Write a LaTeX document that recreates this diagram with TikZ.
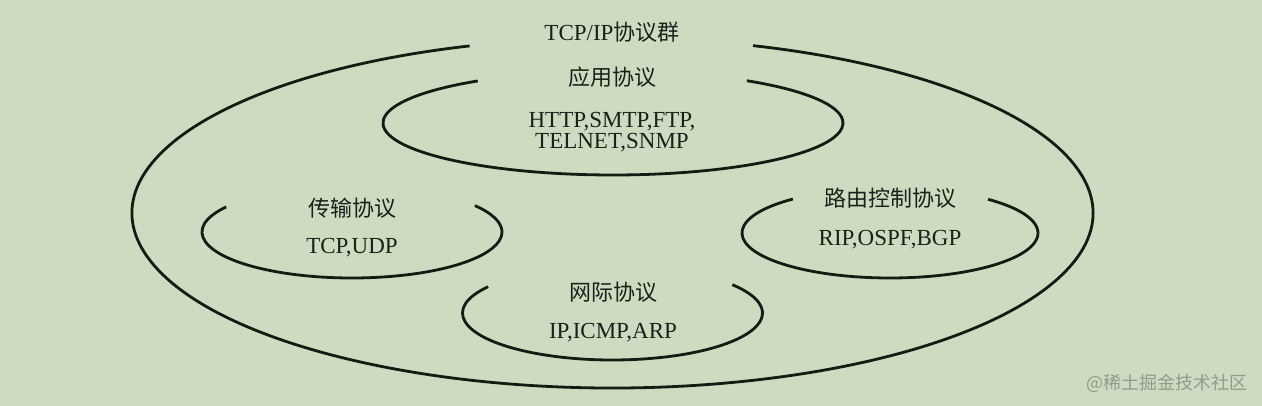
\documentclass[tikz,border=0pt]{standalone}
\usepackage{fontspec}
\setmainfont{Liberation Serif}
\newfontfamily\cjk{Noto Sans CJK SC}
\definecolor{beijingLv}{HTML}{CDDCC1}
\definecolor{xianHei}{HTML}{141A14}
\definecolor{ziHei}{HTML}{18221A}
\definecolor{shuiYin}{HTML}{8E9C8C}

\begin{document}
\begin{tikzpicture}[x=1pt,y=1pt,
  huan/.style={draw=xianHei,line width=2.8pt},
  mingcheng/.style={text=ziHei,font=\fontsize{22}{21}\selectfont\cjk,inner sep=0pt},
  xieyi/.style={text=ziHei,font=\fontsize{23}{21}\selectfont,align=center,inner sep=0pt}]
\fill[beijingLv] (0,0) rectangle (1262,406);
\useasboundingbox (0,0) rectangle (1262,406);
% waiceng: TCP/IP xieyiqun
\coordinate (qun) at (612.5,193);
\draw[huan] (qun) ++(107.3:480.5pt and 175pt) arc[start angle=107.3,end angle=433,x radius=480.5pt,y radius=175pt];
\node[xieyi] (qunMing) at (612,374) {TCP/IP{\cjk\fontsize{22}{21}\selectfont 协议群}};
% yingyong xieyi
\coordinate (yingyong) at (613,283);
\draw[huan] (yingyong) ++(126:230pt and 52pt) arc[start angle=126,end angle=414.4,x radius=230pt,y radius=52pt];
\node[mingcheng] (yingyongMing) at (612,329) {应用协议};
\node[xieyi] (yingyongLie) at (612,274) {HTTP,SMTP,FTP,\\TELNET,SNMP};
% chuanshu xieyi
\coordinate (chuanshu) at (352,174);
\draw[huan] (chuanshu) ++(147:150pt and 46pt) arc[start angle=147,end angle=395,x radius=150pt,y radius=46pt];
\node[mingcheng] (chuanshuMing) at (352,198) {传输协议};
\node[xieyi] (chuanshuLie) at (352,158) {TCP,UDP};
% luyou kongzhi xieyi
\coordinate (luyou) at (890,173);
\draw[huan] (luyou) ++(131:148pt and 45pt) arc[start angle=131,end angle=408.5,x radius=148pt,y radius=45pt];
\node[mingcheng] (luyouMing) at (890,208) {路由控制协议};
\node[xieyi] (luyouLie) at (890,166) {RIP,OSPF,BGP};
% wangji xieyi
\coordinate (wangji) at (612.5,93);
\draw[huan] (wangji) ++(146:150pt and 47pt) arc[start angle=146,end angle=397,x radius=150pt,y radius=47pt];
\node[mingcheng] (wangjiMing) at (613,114) {网际协议};
\node[xieyi] (wangjiLie) at (613,73) {IP,ICMP,ARP};
% shuiyin
\node[text=shuiYin,font=\fontsize{18}{18}\selectfont\cjk,inner sep=0pt] (shuiyin) at (1167,23) {@稀土掘金技术社区};
\end{tikzpicture}
\end{document}
